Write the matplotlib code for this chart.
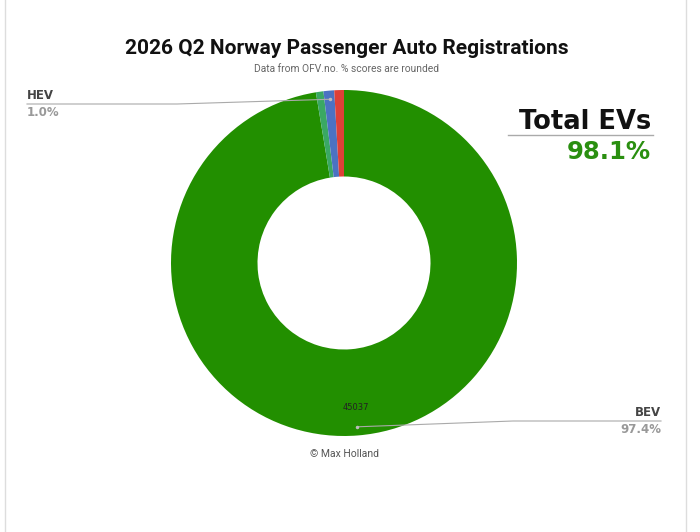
import matplotlib.pyplot as plt
import numpy as np

# values
labels = ["BEV", "PHEV", "HEV", "Petrol/Diesel"]
counts = [45037, 324, 462, 416]
colors = ["#228f00", "#3aa863", "#4b72c2", "#de4037"]
total_ev = 98.1

W, H = 700, 532
fig = plt.figure(figsize=(7, 5.32), dpi=100)
ax = fig.add_axes([0, 0, 1, 1])

cx, cy = 344, H - 263
R = 173
wedges, _ = ax.pie(counts, colors=colors, startangle=90, counterclock=False,
                   center=(cx, cy), radius=R, frame=True,
                   wedgeprops=dict(width=R * 0.5, linewidth=0))
ax.set_xlim(0, W)
ax.set_ylim(0, H)
ax.set_aspect("equal")
ax.axis("off")

# chart border
ax.plot([5, 5], [0, H], color="#dddddd", lw=1)
ax.plot([686, 686], [0, H], color="#dddddd", lw=1)

def mid(w, r):
    a = np.deg2rad((w.theta1 + w.theta2) / 2)
    return cx + r * np.cos(a), cy + r * np.sin(a)

pct = [100 * c / sum(counts) for c in counts]

# HEV callout
px, py = mid(wedges[2], R * 0.95)
ax.plot([px, 177, 27], [py, H - 104, H - 104], color="#aaaaaa", lw=0.8)
ax.plot(px, py, "o", ms=1.5, color="#bbbbbb")
ax.text(27, H - 102, labels[2], fontsize=8.5, fontweight="bold", color="#444444",
        family="DejaVu Sans", ha="left", va="bottom")
ax.text(27, H - 106, f"{pct[2]:.1f}%", fontsize=8.5, fontweight="bold", color="#999999",
        family="DejaVu Sans", ha="left", va="top")

# BEV callout
px, py = mid(wedges[0], R * 0.95)
ax.plot([px, 513, 661], [py, H - 421, H - 421], color="#aaaaaa", lw=0.8)
ax.plot(px, py, "o", ms=1.5, color="#bbbbbb")
ax.text(661, H - 419, labels[0], fontsize=8.5, fontweight="bold", color="#444444",
        family="DejaVu Sans", ha="right", va="bottom")
ax.text(661, H - 423, f"{pct[0]:.1f}%", fontsize=8.5, fontweight="bold", color="#999999",
        family="DejaVu Sans", ha="right", va="top")

# value label in BEV slice
vx, vy = mid(wedges[0], R * 0.84)
ax.text(vx, vy, str(counts[0]), fontsize=6, color="#222222", ha="center", va="center")

# titles
ax.text(W / 2 - 3, H - 48, "2026 Q2 Norway Passenger Auto Registrations", fontsize=15,
        fontweight="bold", family="Roboto", color="#111111", ha="center", va="center")
ax.text(W / 2 - 3, H - 69, "Data from OFV.no. % scores are rounded", fontsize=7.4,
        family="Roboto", color="#666666", ha="center", va="center")
ax.text(345, H - 454, "\u00a9 Max Holland", fontsize=7.5, family="Roboto",
        color="#555555", ha="center", va="center")

# Total EVs box
ax.text(585, H - 122, "Total EVs", fontsize=18.5, fontweight="heavy", family="DejaVu Sans",
        color="#111111", ha="center", va="center")
ax.plot([508, 653], [H - 135, H - 135], color="#aaaaaa", lw=1)
ax.text(651, H - 152, f"{total_ev}%", fontsize=17.5, fontweight="heavy", family="DejaVu Sans",
        color="#2a8f10", ha="right", va="center")

fig.savefig("out.png", dpi=100)
